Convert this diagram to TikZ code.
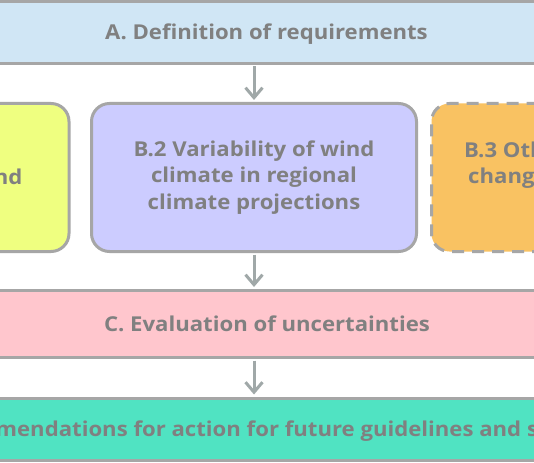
\documentclass[tikz,border=0pt]{standalone}
\usepackage{fontspec}
\setmainfont{Open Sans}[FakeStretch=1.08]
\usetikzlibrary{arrows.meta}
\definecolor{colA}{HTML}{D0E6F5}
\definecolor{colBone}{HTML}{EFFF80}
\definecolor{colBtwo}{HTML}{CCCCFF}
\definecolor{colBthree}{HTML}{F9C262}
\definecolor{colC}{HTML}{FFC6CD}
\definecolor{colD}{HTML}{50E3C2}
\definecolor{bordergray}{HTML}{A6A6A6}
\definecolor{arrgray}{HTML}{A0A8A8}
\definecolor{txtgray}{HTML}{808080}
\newcommand{\diagfont}{\fontsize{20.5}{26.5}\selectfont\bfseries}
\begin{document}
\begin{tikzpicture}[x=1pt,y=1pt,
  wide/.style={draw=bordergray, line width=3pt, rectangle, inner sep=0pt,
    minimum width=900pt, text height=14.7pt, text depth=0pt,
    font=\diagfont, text=txtgray},
  bbox/.style={draw=bordergray, line width=3pt, rectangle, rounded corners=18pt,
    minimum width=325pt, minimum height=148pt, inner sep=0pt,
    font=\diagfont, text=txtgray},
  txt/.style={inner sep=0pt, font=\diagfont, text=txtgray},
  arr/.style={draw=arrgray, line width=3pt, shorten <=1.5pt, shorten >=2pt,
    -{Straight Barb[length=10pt,width=17pt]}}]
\useasboundingbox (0,0) rectangle (534,-462);
\clip (0,0) rectangle (534,-462);
\fill[white] (0,0) rectangle (534,-462);
\node[wide, minimum height=62pt, fill=colA] (A) at (266.5,-32.5) {A. Definition of requirements};
\node[bbox, fill=colBone] (B1) at (-93.5,-177.5) {};
\node[bbox, fill=colBtwo, align=center] (B2) at (254,-177.5) {B.2 Variability of wind\\climate in regional\\climate projections};
\node[bbox, fill=colBthree, dash pattern=on 12pt off 8pt] (B3) at (594,-177.5) {};
\node[txt, anchor=base east] (b1t) at (22.7,-184.3) {nd};
\node[txt, anchor=base west] (b3a) at (464,-157.3) {B.3 Other};
\node[txt, anchor=base west] (b3b) at (468,-183.5) {changes};
\node[wide, minimum height=67pt, fill=colC] (C) at (267,-324) {C. Evaluation of uncertainties};
\node[wide, minimum height=62.5pt, fill=colD] (D) at (265.5,-429.25) {D. Recommendations for action for future guidelines and standards};
\draw[arr] (A.south -| B2.north) -- (B2.north);
\draw[arr] (B2.south) -- (C.north -| B2.south);
\draw[arr] (C.south -| B2.south) -- (D.north -| B2.south);
\end{tikzpicture}
\end{document}
